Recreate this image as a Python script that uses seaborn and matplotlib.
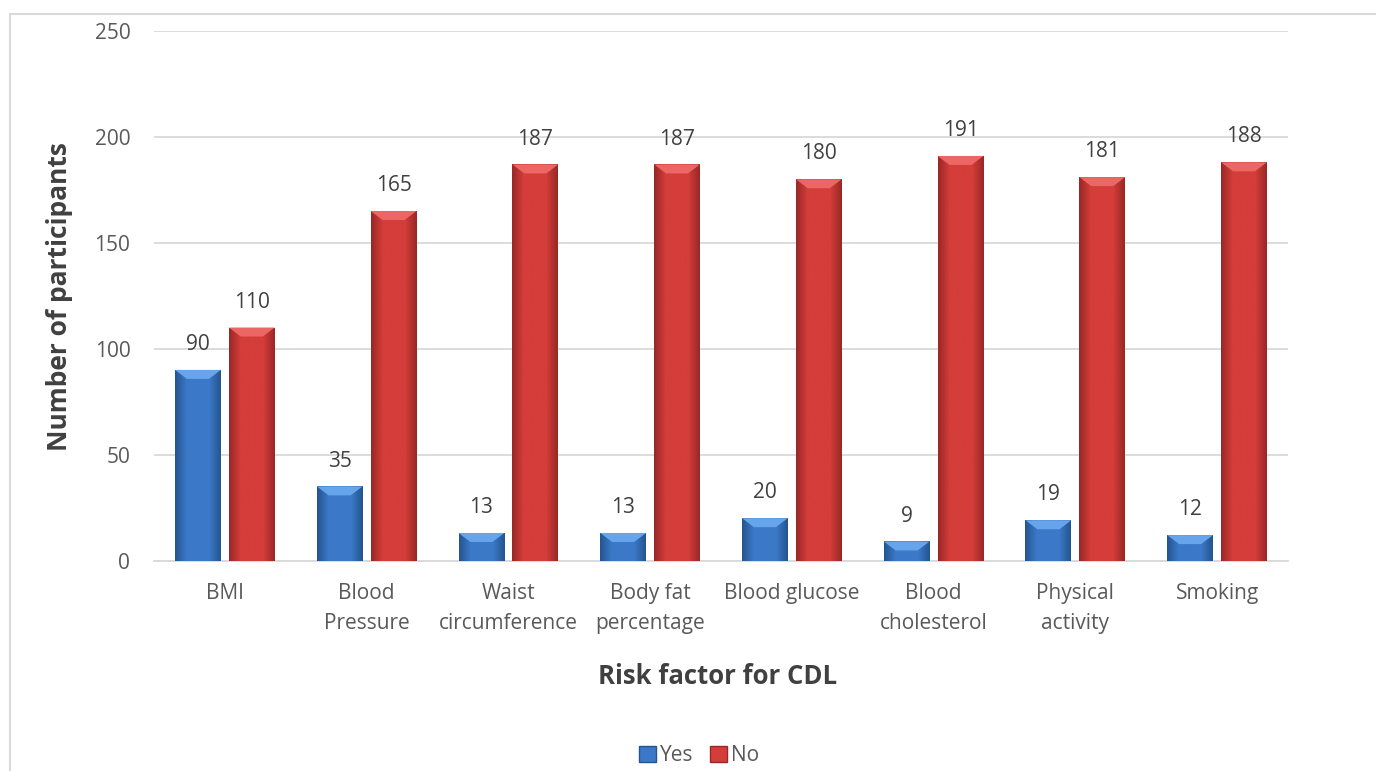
import numpy as np
import pandas as pd
import seaborn as sns
import matplotlib.pyplot as plt
from matplotlib.patches import Polygon
from matplotlib.lines import Line2D
from matplotlib.colors import LinearSegmentedColormap

# --- Data ---
categories = ["BMI", "Blood\nPressure", "Waist\ncircumference", "Body fat\npercentage",
              "Blood glucose", "Blood\ncholesterol", "Physical\nactivity", "Smoking"]
yes_vals = [90, 35, 13, 13, 20, 9, 19, 12]
no_vals = [110, 165, 187, 187, 180, 191, 181, 188]
series = ["Yes", "No"]

df = pd.DataFrame({
    "category": categories * 2,
    "answer": ["Yes"] * len(categories) + ["No"] * len(categories),
    "count": yes_vals + no_vals,
})

# --- Styling ---
sns.set_style("white")
plt.rcParams['font.family'] = ['Open Sans', 'DejaVu Sans']
base = {"Yes": "#3B79C8", "No": "#D43D3A"}
dark = {"Yes": "#24558F", "No": "#992826"}
light = {"Yes": "#66A4EC", "No": "#EC6663"}
text_col = "#404040"
tick_col = "#595959"

fig = plt.figure(figsize=(13.76, 7.71), dpi=100)
ax = fig.add_axes([0.1119, 0.273, 0.8241, 0.6868])

sns.barplot(data=df, x="category", y="count", hue="answer", hue_order=series,
            palette=base, width=0.76, gap=0.15, ax=ax, legend=False,
            edgecolor="none", saturation=1, zorder=3)

ax.set_ylim(0, 250)
ax.set_yticks(range(0, 251, 50))
ax.set_xlim(-0.5, len(categories) - 0.5)
ax.grid(axis="y", color="#D9D9D9", linewidth=1.3, zorder=0)
for s in ["top", "right", "left"]:
    ax.spines[s].set_visible(False)
ax.spines["bottom"].set_color("#D9D9D9")
ax.spines["bottom"].set_linewidth(1.3)
ax.tick_params(axis="both", length=0, labelsize=15, colors=tick_col)
ax.tick_params(axis="y", pad=17)
ax.tick_params(axis="x", pad=16)
for lab in ax.get_xticklabels():
    lab.set_linespacing(1.55)
ax.set_xlabel("")
ax.set_ylabel("")

# shaded bevel look on every bar
px_per_unit = ax.get_window_extent().height / 250
for patch, key in zip(ax.patches, ["Yes"] * len(categories) + ["No"] * len(categories)):
    x0, y0 = patch.get_x(), patch.get_y()
    w, h = patch.get_width(), patch.get_height()
    cmap = LinearSegmentedColormap.from_list("g", [dark[key], base[key], base[key], base[key], dark[key]])
    grad = np.linspace(0, 1, 64).reshape(1, -1)
    im = ax.imshow(grad, cmap=cmap, extent=[x0, x0 + w, y0, y0 + h],
                   aspect="auto", zorder=3.5)
    im.set_clip_path(patch)
    bev = min(9 / px_per_unit, h / 2)
    inset = w * 0.26
    top = Polygon([[x0, y0 + h], [x0 + w, y0 + h], [x0 + w - inset, y0 + h - bev],
                   [x0 + inset, y0 + h - bev]], closed=True,
                  facecolor=light[key], edgecolor="none", zorder=4)
    ax.add_patch(top)
    ax.text(x0 + w / 2, y0 + h + 7, f"{int(h)}", ha="center", va="bottom",
            fontsize=15, color=text_col, zorder=5)

fig.text(0.0436, 0.6154, "Number of participants", rotation=90, ha="center", va="center",
         fontsize=19, fontweight="bold", color=text_col)
fig.text(0.5214, 0.122, "Risk factor for CDL", ha="center", va="center",
         fontsize=18.5, fontweight="bold", color=text_col)

handles = [plt.Rectangle((0, 0), 1, 1, facecolor=base[k], edgecolor=dark[k]) for k in series]
fig.legend(handles, series, loc="center", bbox_to_anchor=(0.508, 0.0195), ncol=2,
           frameon=False, fontsize=15, handlelength=0.8, handleheight=0.8,
           handletextpad=0.2, columnspacing=0.8, labelcolor=tick_col)

# outer chart border
fig.add_artist(Line2D([10 / 1376, 1], [1 - 14 / 771, 1 - 14 / 771], color="#D9D9D9", lw=1.5))
fig.add_artist(Line2D([10 / 1376, 10 / 1376], [0, 1 - 14 / 771], color="#D9D9D9", lw=1.5))

fig.savefig("out.png", dpi=100)
